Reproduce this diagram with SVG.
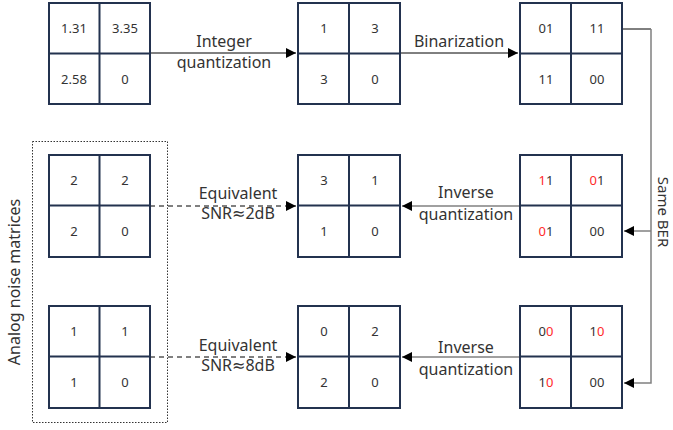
<svg xmlns="http://www.w3.org/2000/svg" width="673" height="430" viewBox="0 0 673 430">
<defs>
<style>
.m{fill:#fff;stroke:#23324f;stroke-width:2}
.ml{stroke:#23324f;stroke-width:2}
.c{font-family:"Noto Sans","DejaVu Sans",sans-serif;font-size:13px;fill:#333;text-anchor:middle}
.l{font-family:"Noto Sans","DejaVu Sans",sans-serif;font-size:16px;fill:#333;text-anchor:middle}
.r{fill:#ff2a2a}
.a{stroke:#000;stroke-width:1;fill:none}
.g{stroke:#808080;stroke-width:1.5;fill:none}
</style>
<marker id="ah" viewBox="0 0 10 10" refX="10" refY="5" markerWidth="10" markerHeight="10" markerUnits="userSpaceOnUse" orient="auto"><path d="M0,0 L10,5 L0,10 Z" fill="#000"/></marker>
</defs>
<rect x="32.5" y="141.5" width="135" height="281" fill="none" stroke="#333" stroke-width="1" stroke-dasharray="1.5,1.5"/>
<text class="l" transform="translate(20,282) rotate(-90)">Analog noise matrices</text>
<text class="l" style="font-size:15px" transform="translate(658,212) rotate(90)">Same BER</text>
<g id="connectors">
<path class="a" d="M150,53 H296" marker-end="url(#ah)"/>
<path class="a" d="M400,53 H518" marker-end="url(#ah)"/>
<path class="a" d="M150,206 H296" stroke-dasharray="5,4" marker-end="url(#ah)"/>
<path class="a" d="M150,357 H296" stroke-dasharray="5,4" marker-end="url(#ah)"/>
<path class="g" d="M520,206 H402" marker-end="url(#ah)"/>
<path class="g" d="M520,357 H402" marker-end="url(#ah)"/>
<path class="a" d="M622,29 H651"/>
<path class="g" d="M651,29 V383 H624" marker-end="url(#ah)"/>
<path class="g" d="M651,231 H624" marker-end="url(#ah)"/>
<text class="l" x="224" y="47">Integer</text>
<text class="l" x="224" y="68">quantization</text>
<text class="l" x="459" y="47">Binarization</text>
<text class="l" x="238" y="199">Equivalent</text>
<text class="l" x="238" y="219">SNR≈2dB</text>
<text class="l" x="238" y="351">Equivalent</text>
<text class="l" x="238" y="371">SNR≈8dB</text>
<text class="l" x="466" y="198">Inverse</text>
<text class="l" x="466" y="220">quantization</text>
<text class="l" x="466" y="353">Inverse</text>
<text class="l" x="466" y="375">quantization</text>
</g>
<g id="m1"><rect class="m" x="49" y="3" width="101" height="101"/><path class="ml" d="M99.5,3V104M49,53.5H150"/>
<text class="c" x="74" y="33">1.31</text><text class="c" x="125" y="33">3.35</text><text class="c" x="74" y="84">2.58</text><text class="c" x="125" y="84">0</text></g>
<g id="m2"><rect class="m" x="298" y="3" width="102" height="101"/><path class="ml" d="M349,3V104M298,53.5H400"/>
<text class="c" x="324" y="33">1</text><text class="c" x="375" y="33">3</text><text class="c" x="324" y="84">3</text><text class="c" x="375" y="84">0</text></g>
<g id="m3"><rect class="m" x="520" y="3" width="102" height="101"/><path class="ml" d="M571,3V104M520,53.5H622"/>
<text class="c" x="546" y="33">01</text><text class="c" x="597" y="33">11</text><text class="c" x="546" y="84">11</text><text class="c" x="597" y="84">00</text></g>
<g id="m4"><rect class="m" x="49" y="155" width="101" height="102"/><path class="ml" d="M99.5,155V257M49,205.5H150"/>
<text class="c" x="74" y="185">2</text><text class="c" x="125" y="185">2</text><text class="c" x="74" y="236">2</text><text class="c" x="125" y="236">0</text></g>
<g id="m5"><rect class="m" x="298" y="155" width="102" height="102"/><path class="ml" d="M349,155V257M298,205.5H400"/>
<text class="c" x="324" y="185">3</text><text class="c" x="375" y="185">1</text><text class="c" x="324" y="236">1</text><text class="c" x="375" y="236">0</text></g>
<g id="m6"><rect class="m" x="520" y="155" width="102" height="102"/><path class="ml" d="M571,155V257M520,205.5H622"/>
<text class="c" x="546" y="185"><tspan class="r">1</tspan>1</text><text class="c" x="597" y="185"><tspan class="r">0</tspan>1</text><text class="c" x="546" y="236"><tspan class="r">0</tspan>1</text><text class="c" x="597" y="236">00</text></g>
<g id="m7"><rect class="m" x="49" y="306" width="101" height="102"/><path class="ml" d="M99.5,306V408M49,356.5H150"/>
<text class="c" x="74" y="336">1</text><text class="c" x="125" y="336">1</text><text class="c" x="74" y="387">1</text><text class="c" x="125" y="387">0</text></g>
<g id="m8"><rect class="m" x="298" y="306" width="102" height="102"/><path class="ml" d="M349,306V408M298,356.5H400"/>
<text class="c" x="324" y="336">0</text><text class="c" x="375" y="336">2</text><text class="c" x="324" y="387">2</text><text class="c" x="375" y="387">0</text></g>
<g id="m9"><rect class="m" x="520" y="306" width="102" height="102"/><path class="ml" d="M571,306V408M520,356.5H622"/>
<text class="c" x="546" y="336">0<tspan class="r">0</tspan></text><text class="c" x="597" y="336">1<tspan class="r">0</tspan></text><text class="c" x="546" y="387">1<tspan class="r">0</tspan></text><text class="c" x="597" y="387">00</text></g>
</svg>
